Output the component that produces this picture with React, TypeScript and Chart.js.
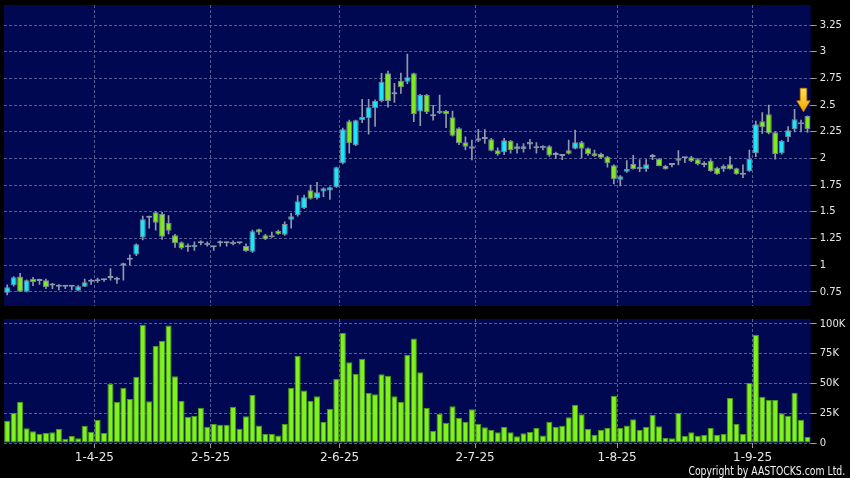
import React, { useEffect, useRef } from 'react';
import { Chart, registerables } from 'chart.js';

Chart.register(...registerables);

// ---------- data ----------
const opens = [
  0.744, 0.813, 0.894, 0.753, 0.872, 0.853, 0.859, 0.81, 0.8, 0.8,
  0.8, 0.762, 0.8, 0.847, 0.85, 0.86, 0.88, 0.865, 1.0, 1.053,
  1.1, 1.26, 1.446, 1.496, 1.48, 1.399, 1.281, 1.215, 1.168, 1.168,
  1.206, 1.212, 1.168, 1.206, 1.206, 1.218, 1.206, 1.181, 1.127, 1.337,
  1.281, 1.262, 1.321, 1.287, 1.427, 1.468, 1.534, 1.702, 1.628, 1.69,
  1.7, 1.73, 1.955, 2.348, 2.124, 2.357, 2.377, 2.47, 2.538, 2.798,
  2.601, 2.729, 2.719, 2.798, 2.439, 2.594, 2.395, 2.423, 2.445, 2.386,
  2.283, 2.152, 2.092, 2.167, 2.183, 2.18, 2.077, 2.058, 2.164, 2.086,
  2.09, 2.155, 2.095, 2.095, 2.114, 2.033, 2.024, 2.077, 2.092, 2.152,
  2.095, 2.05, 2.042, 2.017, 1.936, 1.802, 1.877, 1.949, 1.92, 1.9,
  2.014, 1.998, 1.93, 1.94, 1.98, 2.002, 2.011, 1.993, 1.94, 1.98,
  1.914, 1.9, 1.946, 1.908, 1.848, 1.88, 2.049, 2.348, 2.414, 2.245,
  2.049, 2.199, 2.273, 2.32, 2.398,
];
const highs = [
  0.816, 0.895, 0.925, 0.865, 0.888, 0.87, 0.87, 0.83, 0.82, 0.81,
  0.81, 0.81, 0.87, 0.87, 0.88, 0.87, 0.97, 0.89, 1.02, 1.097,
  1.2, 1.46, 1.46, 1.5, 1.496, 1.465, 1.29, 1.22, 1.2, 1.22,
  1.23, 1.22, 1.17, 1.23, 1.22, 1.23, 1.21, 1.2, 1.33, 1.34,
  1.29, 1.31, 1.33, 1.408, 1.487, 1.652, 1.658, 1.752, 1.777, 1.725,
  1.735, 1.92, 2.286, 2.36, 2.36, 2.554, 2.554, 2.55, 2.798, 2.819,
  2.704, 2.8, 2.978, 2.8, 2.6, 2.6, 2.498, 2.594, 2.45, 2.445,
  2.29, 2.204, 2.173, 2.273, 2.27, 2.19, 2.1, 2.189, 2.17, 2.14,
  2.14, 2.18, 2.15, 2.12, 2.12, 2.06, 2.04, 2.173, 2.267, 2.16,
  2.1, 2.08, 2.05, 2.02, 1.94, 1.84, 1.98, 2.03, 1.99, 1.99,
  2.04, 2.0, 1.935, 1.95, 2.073, 2.01, 2.02, 2.0, 1.97, 1.99,
  1.92, 1.94, 2.017, 1.91, 1.94, 2.08, 2.351, 2.429, 2.5, 2.25,
  2.17, 2.298, 2.46, 2.36, 2.4,
];
const lows = [
  0.722, 0.805, 0.753, 0.75, 0.81, 0.82, 0.78, 0.78, 0.77, 0.78,
  0.77, 0.76, 0.8, 0.82, 0.84, 0.85, 0.86, 0.83, 0.86, 1.003,
  1.09, 1.237, 1.347, 1.33, 1.243, 1.293, 1.168, 1.15, 1.13, 1.14,
  1.19, 1.18, 1.14, 1.18, 1.18, 1.19, 1.2, 1.13, 1.12, 1.29,
  1.24, 1.26, 1.29, 1.28, 1.347, 1.46, 1.53, 1.62, 1.62, 1.642,
  1.618, 1.73, 1.95, 2.049, 2.12, 2.335, 2.227, 2.3, 2.53, 2.48,
  2.526, 2.61, 2.7, 2.345, 2.307, 2.42, 2.36, 2.42, 2.288, 2.21,
  2.13, 2.08, 1.986, 2.157, 2.142, 2.07, 2.03, 2.036, 2.05, 2.05,
  2.06, 2.09, 2.05, 2.08, 2.02, 2.0, 1.99, 2.04, 2.09, 2.002,
  2.03, 2.02, 2.0, 1.918, 1.761, 1.743, 1.87, 1.9, 1.876, 1.88,
  1.99, 1.93, 1.9, 1.92, 1.94, 1.96, 1.97, 1.94, 1.92, 1.88,
  1.85, 1.88, 1.9, 1.85, 1.82, 1.88, 2.017, 2.236, 2.23, 1.993,
  2.04, 2.157, 2.25, 2.25, 2.245,
];
const closes = [
  0.794, 0.888, 0.753, 0.859, 0.844, 0.853, 0.794, 0.81, 0.8, 0.8,
  0.8, 0.803, 0.841, 0.847, 0.85, 0.86, 0.88, 0.865, 1.0, 1.053,
  1.197, 1.431, 1.446, 1.399, 1.268, 1.324, 1.206, 1.159, 1.168, 1.19,
  1.206, 1.19, 1.168, 1.206, 1.206, 1.2, 1.206, 1.134, 1.318, 1.306,
  1.243, 1.281, 1.29, 1.387, 1.459, 1.599, 1.637, 1.624, 1.684, 1.721,
  1.73, 1.918, 2.273, 2.142, 2.357, 2.388, 2.48, 2.538, 2.719, 2.538,
  2.601, 2.667, 2.76, 2.417, 2.594, 2.432, 2.395, 2.445, 2.414, 2.214,
  2.142, 2.11, 2.114, 2.189, 2.183, 2.073, 2.039, 2.17, 2.08, 2.114,
  2.114, 2.13, 2.095, 2.117, 2.027, 2.033, 2.024, 2.045, 2.152, 2.092,
  2.039, 2.023, 2.007, 1.955, 1.805, 1.833, 1.902, 1.902, 1.9, 1.946,
  2.014, 1.93, 1.9, 1.94, 2.002, 2.002, 1.974, 1.949, 1.94, 1.883,
  1.852, 1.93, 1.9, 1.852, 1.848, 1.998, 2.32, 2.292, 2.236, 2.042,
  2.164, 2.264, 2.367, 2.339, 2.273,
];
// volume in thousands of shares
const volumesK = [
  18.8, 25.2, 34.4, 12.3, 9.8, 7.8, 8.4, 9.0, 11.8, 3.6,
  5.9, 3.9, 14.6, 9.5, 19.3, 8.4, 49.8, 34.7, 46.5, 37.0,
  55.7, 99.4, 35.0, 81.5, 85.7, 98.8, 56.0, 35.3, 22.1, 22.7,
  29.7, 13.7, 16.0, 15.4, 15.4, 30.5, 12.0, 22.4, 40.3, 14.8,
  7.6, 7.6, 6.2, 16.0, 46.2, 73.1, 44.2, 35.3, 39.2, 17.6,
  28.8, 54.0, 92.4, 67.8, 58.2, 70.8, 42.0, 40.9, 57.7, 56.6,
  39.2, 34.4, 74.2, 87.9, 59.4, 29.4, 10.1, 24.4, 17.1, 30.8,
  21.3, 17.9, 28.3, 16.2, 13.2, 10.9, 9.0, 13.4, 9.0, 5.6,
  8.1, 9.2, 12.6, 6.4, 17.9, 13.4, 14.6, 21.6, 31.9, 24.1,
  11.8, 7.0, 10.9, 12.6, 39.5, 12.6, 14.8, 19.9, 11.2, 13.4,
  23.5, 14.0, 4.2, 3.9, 25.2, 5.9, 9.0, 5.9, 6.7, 12.6,
  7.0, 7.6, 37.8, 16.0, 7.6, 50.4, 91.0, 38.9, 36.1, 36.1,
  24.9, 23.0, 42.3, 19.6, 5.0,
];
// first trading day of each month (category index) and its label
const monthStartIndex = [14, 32, 52, 73, 95, 116];
const monthLabels = ['1-4-25', '2-5-25', '2-6-25', '2-7-25', '1-8-25', '1-9-25'];
const priceStep = 0.25;
const volumeStepK = 25;

// ---------- styles ----------
const NAVY = '#000851';
const GRID = '#575d92';
const UP = '#1de4f6';
const DOWN = '#7fea1e';
const FLAT = '#8f98a8';
const CANDLE_BORDER = '#7c8797';
const WICK = '#9199aa';
const VOL_FILL = '#80f01f';
const VOL_BORDER = '#4a9a14';
const TEXT = '#e6e6e6';
const FONT = '"DejaVu Sans", Verdana, sans-serif';

const W = 850;
const TOP_H = 312;
const BOT_H = 166;
const AXIS_W = 39.3;

const categories = opens.map((_, i) => String(i));

const panelBg = {
  id: 'panelBg',
  beforeDraw(chart: any) {
    const { ctx, chartArea: a } = chart;
    ctx.save();
    ctx.fillStyle = NAVY;
    ctx.fillRect(a.left, a.top, a.right - a.left, a.bottom - a.top);
    ctx.restore();
  },
};

const arrowMarker = {
  id: 'arrowMarker',
  afterDatasetsDraw(chart: any) {
    const { ctx } = chart;
    const xs = chart.scales.x;
    const ys = chart.scales.y;
    const last = opens.length - 1;
    const cx = xs.getPixelForValue(last) - 4;
    const tip = ys.getPixelForValue(highs[last]) - 4;
    const g = ctx.createLinearGradient(0, tip - 24, 0, tip);
    g.addColorStop(0, '#ffe45a');
    g.addColorStop(1, '#f2a400');
    ctx.save();
    ctx.beginPath();
    ctx.moveTo(cx - 3.3, tip - 23.5);
    ctx.lineTo(cx + 3.3, tip - 23.5);
    ctx.lineTo(cx + 3.3, tip - 11);
    ctx.lineTo(cx + 6.7, tip - 11);
    ctx.lineTo(cx, tip);
    ctx.lineTo(cx - 6.7, tip - 11);
    ctx.lineTo(cx - 3.3, tip - 11);
    ctx.closePath();
    ctx.fillStyle = g;
    ctx.fill();
    ctx.strokeStyle = '#b77800';
    ctx.lineWidth = 0.8;
    ctx.stroke();
    ctx.restore();
  },
};

function xAxis(showLabels: boolean, height: number) {
  return {
    type: 'category' as const,
    offset: true,
    afterBuildTicks: (scale: any) => {
      scale.ticks = monthStartIndex.map((i) => ({ value: i - 0.5 }));
    },
    afterFit: (scale: any) => {
      scale.height = height;
      scale.paddingLeft = 0;
      scale.paddingRight = 0;
      scale.paddingTop = 0;
      scale.paddingBottom = 0;
    },
    grid: {
      offset: false,
      color: GRID,
      lineWidth: 1,
      drawTicks: showLabels,
      tickLength: 5,
      tickColor: '#9a9a9a',
    },
    border: { display: false, dash: [3, 2] },
    ticks: {
      display: showLabels,
      autoSkip: false,
      maxRotation: 0,
      minRotation: 0,
      padding: 3,
      color: TEXT,
      font: { family: FONT, size: 12 },
      callback: (_v: any, idx: number) => monthLabels[idx],
    },
  };
}

function yFit(s: any) {
  s.width = AXIS_W;
  s.paddingTop = 0;
  s.paddingBottom = 0;
  s.paddingLeft = 0;
  s.paddingRight = 0;
}

export default function App() {
  const topRef = useRef<HTMLCanvasElement>(null);
  const botRef = useRef<HTMLCanvasElement>(null);

  useEffect(() => {
    const bodyColors = opens.map((o, i) =>
      closes[i] > o ? UP : closes[i] < o ? DOWN : FLAT
    );
    const bodyBorders = opens.map((o, i) => (closes[i] === o ? FLAT : CANDLE_BORDER));

    const priceChart = new Chart(topRef.current as HTMLCanvasElement, {
      type: 'bar',
      data: {
        labels: categories,
        datasets: [
          {
            label: 'body',
            data: opens.map((o, i) => [o, closes[i]]) as any,
            backgroundColor: bodyColors,
            borderColor: bodyBorders,
            borderWidth: 1,
            borderSkipped: false,
            minBarLength: 2,
            barPercentage: 0.93,
            categoryPercentage: 1,
            grouped: false,
          } as any,
          {
            label: 'wick',
            data: lows.map((l, i) => [l, highs[i]]) as any,
            backgroundColor: WICK,
            borderWidth: 0,
            barThickness: 1,
            grouped: false,
          } as any,
        ],
      },
      options: {
        responsive: false,
        animation: false,
        devicePixelRatio: 1,
        layout: { autoPadding: false, padding: { left: 4, top: 5, bottom: 6, right: 0 } },
        plugins: { legend: { display: false }, tooltip: { enabled: false } },
        scales: {
          x: xAxis(false, 0) as any,
          y: {
            position: 'right',
            min: 0.6189,
            max: 3.4373,
            afterFit: yFit,
            grid: {
              color: GRID,
              tickColor: '#9a9a9a',
              tickLength: 6,
            },
            border: { display: false, dash: [3, 2] },
            ticks: {
              stepSize: priceStep,
              includeBounds: false,
              padding: 3,
              color: TEXT,
              font: { family: FONT, size: 10 },
              callback: (v: any) => String(Math.round(Number(v) * 100) / 100),
            },
          },
        },
      },
      plugins: [panelBg, arrowMarker],
    });

    const volChart = new Chart(botRef.current as HTMLCanvasElement, {
      type: 'bar',
      data: {
        labels: categories,
        datasets: [
          {
            label: 'volume',
            data: volumesK,
            backgroundColor: VOL_FILL,
            borderColor: VOL_BORDER,
            borderWidth: 1,
            borderSkipped: false,
            barPercentage: 0.95,
            categoryPercentage: 1,
          } as any,
        ],
      },
      options: {
        responsive: false,
        animation: false,
        devicePixelRatio: 1,
        layout: { autoPadding: false, padding: { left: 4, top: 7, bottom: 0, right: 0 } },
        plugins: { legend: { display: false }, tooltip: { enabled: false } },
        scales: {
          x: xAxis(true, 35) as any,
          y: {
            position: 'right',
            min: 0,
            max: 104.2,
            afterFit: yFit,
            grid: {
              color: GRID,
              tickColor: '#9a9a9a',
              tickLength: 6,
            },
            border: { display: false, dash: [3, 2] },
            ticks: {
              stepSize: volumeStepK,
              includeBounds: false,
              padding: 3,
              color: TEXT,
              font: { family: FONT, size: 10 },
              callback: (v: any) => (Number(v) === 0 ? '0' : `${v}K`),
            },
          },
        },
      },
      plugins: [panelBg],
    });

    return () => {
      priceChart.destroy();
      volChart.destroy();
    };
  }, []);

  return (
    <div
      style={{
        position: 'fixed',
        left: 0,
        top: 0,
        width: W,
        height: TOP_H + BOT_H,
        background: '#000',
        overflow: 'hidden',
      }}
    >
      <canvas
        ref={topRef}
        width={W}
        height={TOP_H}
        style={{ position: 'absolute', left: 0, top: 0, width: W, height: TOP_H }}
      />
      <canvas
        ref={botRef}
        width={W}
        height={BOT_H}
        style={{ position: 'absolute', left: 0, top: TOP_H, width: W, height: BOT_H }}
      />
      <div
        style={{
          position: 'absolute',
          right: 5,
          top: 465,
          color: '#f2f2f2',
          fontFamily: '"DejaVu Sans Condensed", "DejaVu Sans", sans-serif',
          fontSize: 11.5,
          lineHeight: '13px',
          whiteSpace: 'nowrap',
          transform: 'scaleX(0.9)',
          transformOrigin: 'right center',
        }}
      >
        Copyright by AASTOCKS.com Ltd.
      </div>
    </div>
  );
}
